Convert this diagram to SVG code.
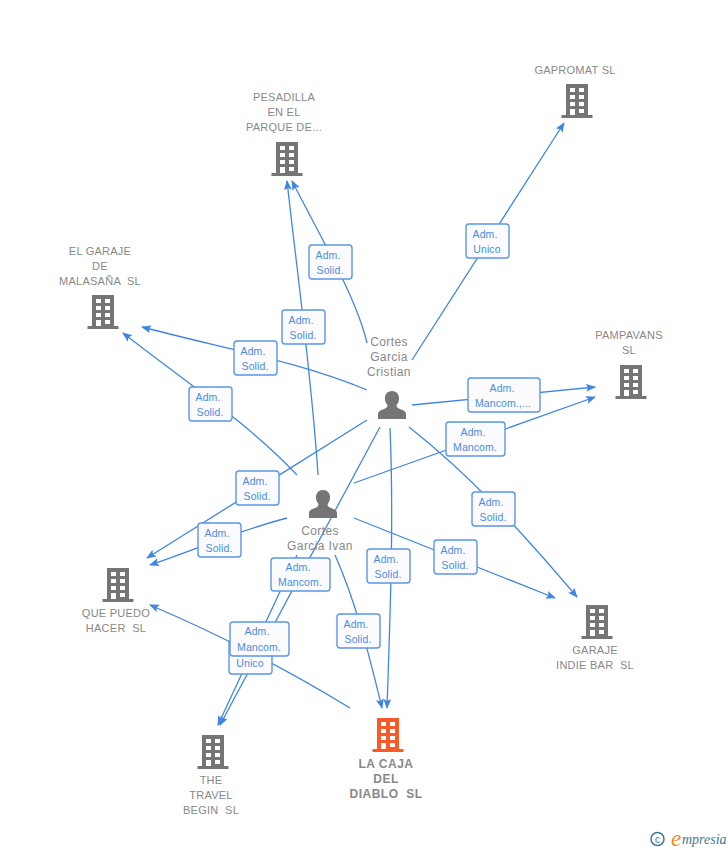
<svg xmlns="http://www.w3.org/2000/svg" width="728" height="850" viewBox="0 0 728 850">
<style>
text{white-space:pre}
.n{font:11px "Liberation Sans",Arial,sans-serif;fill:#888;text-anchor:middle;letter-spacing:.25px}
.nb{font:bold 12px "Liberation Sans",Arial,sans-serif;fill:#888;text-anchor:middle;letter-spacing:.5px}
.p{font:12px "Liberation Sans",Arial,sans-serif;fill:#888;text-anchor:middle;letter-spacing:.4px}
.l{font:10.500px "Liberation Sans",Arial,sans-serif;fill:#4a8ce4;text-anchor:middle;letter-spacing:.1px}
.c{fill:none;stroke:#3f86e4;stroke-width:1.3}
.b{fill:#fbfbfd;stroke:#5a96e8;stroke-width:1.4}
</style>
<defs>
<marker id="a" markerWidth="12" markerHeight="10" refX="9" refY="4" orient="auto" markerUnits="userSpaceOnUse"><path d="M0 0L10 4L0 8L2 4Z" fill="#3f86e4"/></marker>
<symbol id="bld" overflow="visible"><path d="M-11 0H11V31H15.500V34H-15.500V31H-11Z" fill="currentColor"/><path d="M-7 4h5v4h-5zM2 4h5v4h-5zM-7 11h5v4h-5zM2 11h5v4h-5zM-7 18h5v4h-5zM2 18h5v4h-5zM-7 25h5v6h-5zM2 25h5v4h-5z" fill="#fff"/></symbol>
<symbol id="per" overflow="visible"><path d="M0 -14C5 -14 7.500 -10 7 -5.500C6.800 -3 5.500 -1 4.500 0C4.500 2 5.500 3 8 4C11 5 14 6.500 14 9V14H-14V9C-14 6.500 -11 5 -8 4C-5.500 3 -4.500 2 -4.500 0C-5.500 -1 -6.800 -3 -7 -5.500C-7.500 -10 -5 -14 0 -14Z" fill="#757575"/></symbol>
</defs>
<g id="connectors">
<path class="c" d="M412 360L564 123" marker-end="url(#a)"/>
<path class="c" d="M367 343C357 300 325 245 292 181" marker-end="url(#a)"/>
<path class="c" d="M367 390C300 362 230 350 142 327" marker-end="url(#a)"/>
<path class="c" d="M412 405L595 387" marker-end="url(#a)"/>
<path class="c" d="M409 427C470 475 520 530 577 597" marker-end="url(#a)"/>
<path class="c" d="M390 428C394 520 390 620 387 708" marker-end="url(#a)"/>
<path class="c" d="M380 427L220 725" marker-end="url(#a)"/>
<path class="c" d="M367 420L147 558" marker-end="url(#a)"/>
<path class="c" d="M318 475C312 380 298 280 287 181" marker-end="url(#a)"/>
<path class="c" d="M297 475C250 425 190 385 123 333" marker-end="url(#a)"/>
<path class="c" d="M354 483L595 397" marker-end="url(#a)"/>
<path class="c" d="M287 518C240 530 200 548 150 565" marker-end="url(#a)"/>
<path class="c" d="M354 518L555 598" marker-end="url(#a)"/>
<path class="c" d="M335 555C355 600 368 650 382 708" marker-end="url(#a)"/>
<path class="c" d="M297 555L218 725" marker-end="url(#a)"/>
<path class="c" d="M350 708C280 665 220 635 150 605" marker-end="url(#a)"/>
</g>
<g id="edge-labels">
<g><rect class="b" x="466" y="224" width="43" height="34" rx="3"/><text class="l" x="485" y="238">Adm.</text><text class="l" x="487" y="253">Unico</text></g>
<g><rect class="b" x="309" y="245" width="43" height="34" rx="3"/><text class="l" x="328" y="259">Adm.</text><text class="l" x="330" y="274">Solid.</text></g>
<g><rect class="b" x="282" y="310" width="43" height="34" rx="3"/><text class="l" x="301" y="324">Adm.</text><text class="l" x="303" y="339">Solid.</text></g>
<g><rect class="b" x="234" y="341" width="43" height="34" rx="3"/><text class="l" x="253" y="355">Adm.</text><text class="l" x="255" y="370">Solid.</text></g>
<g><rect class="b" x="189" y="387" width="43" height="34" rx="3"/><text class="l" x="208" y="401">Adm.</text><text class="l" x="210" y="416">Solid.</text></g>
<g><rect class="b" x="468" y="378" width="72" height="34" rx="3"/><text class="l" x="502" y="392">Adm.</text><text class="l" x="503" y="407">Mancom.,...</text></g>
<g><rect class="b" x="446" y="422" width="59" height="34" rx="3"/><text class="l" x="473" y="436">Adm.</text><text class="l" x="475" y="451">Mancom.</text></g>
<g><rect class="b" x="236" y="471" width="43" height="34" rx="3"/><text class="l" x="255" y="485">Adm.</text><text class="l" x="257" y="500">Solid.</text></g>
<g><rect class="b" x="472" y="492" width="43" height="34" rx="3"/><text class="l" x="491" y="506">Adm.</text><text class="l" x="493" y="521">Solid.</text></g>
<g><rect class="b" x="198" y="523" width="43" height="34" rx="3"/><text class="l" x="217" y="537">Adm.</text><text class="l" x="219" y="552">Solid.</text></g>
<g><rect class="b" x="434" y="540" width="43" height="34" rx="3"/><text class="l" x="453" y="554">Adm.</text><text class="l" x="455" y="569">Solid.</text></g>
<g><rect class="b" x="367" y="549" width="43" height="34" rx="3"/><text class="l" x="386" y="563">Adm.</text><text class="l" x="388" y="578">Solid.</text></g>
<g><rect class="b" x="271" y="558" width="59" height="33" rx="3"/><text class="l" x="298" y="571">Adm.</text><text class="l" x="300" y="586">Mancom.</text></g>
<g><rect class="b" x="337" y="614" width="43" height="34" rx="3"/><text class="l" x="356" y="628">Adm.</text><text class="l" x="358" y="643">Solid.</text></g>
<g><rect class="b" x="229" y="640" width="43" height="34" rx="3"/><text class="l" x="250" y="667">Unico</text></g>
<g><rect class="b" x="230" y="622" width="59" height="34" rx="3"/><text class="l" x="257" y="635">Adm.</text><text class="l" x="259" y="651">Mancom.</text></g>
</g>
<g id="node-pesadilla" color="#757575"><use href="#bld" x="287" y="142"/><text class="n" x="284" y="101">PESADILLA</text><text class="n" x="284" y="116">EN EL</text><text class="n" x="284" y="131">PARQUE DE...</text></g>
<g id="node-gapromat" color="#757575"><use href="#bld" x="577" y="84"/><text class="n" x="575" y="74">GAPROMAT SL</text></g>
<g id="node-malasana" color="#757575"><use href="#bld" x="103" y="295"/><text class="n" x="100" y="255">EL GARAJE</text><text class="n" x="100" y="270">DE</text><text class="n" x="100" y="285">MALASAÑA  SL</text></g>
<g id="node-pampavans" color="#757575"><use href="#bld" x="631" y="365"/><text class="n" x="629" y="339">PAMPAVANS</text><text class="n" x="629" y="354">SL</text></g>
<g id="node-quepuedo" color="#757575"><use href="#bld" x="118" y="568"/><text class="n" x="116" y="617">QUE PUEDO</text><text class="n" x="116" y="632">HACER  SL</text></g>
<g id="node-indie" color="#757575"><use href="#bld" x="597" y="605"/><text class="n" x="595" y="654">GARAJE</text><text class="n" x="595" y="669">INDIE BAR  SL</text></g>
<g id="node-travel" color="#757575"><use href="#bld" x="213" y="735"/><text class="n" x="211" y="784">THE</text><text class="n" x="211" y="799">TRAVEL</text><text class="n" x="211" y="814">BEGIN  SL</text></g>
<g id="node-lacaja" color="#fa5a28"><use href="#bld" x="388" y="718"/><text class="nb" x="386" y="768">LA CAJA</text><text class="nb" x="386" y="783">DEL</text><text class="nb" x="386" y="798">DIABLO  SL</text></g>
<g id="node-cristian"><use href="#per" x="392" y="405"/><text class="p" x="389" y="346">Cortes</text><text class="p" x="389" y="361">Garcia</text><text class="p" x="389" y="376">Cristian</text></g>
<g id="node-ivan"><use href="#per" x="323" y="504"/><text class="p" x="320" y="535">Cortes</text><text class="p" x="320" y="550">Garcia Ivan</text></g>
<g id="logo"><circle cx="657.500" cy="839" r="6.500" fill="none" stroke="#3f7a94" stroke-width="1.500"/><text x="657.500" y="842.500" font-family="Liberation Sans,sans-serif" font-size="10" fill="#3f7a94" text-anchor="middle">c</text><text x="671" y="846" font-family="Liberation Serif,serif" font-style="italic" font-size="23" fill="#f08a1d">e</text><text x="682" y="844" font-family="Liberation Serif,serif" font-style="italic" font-size="14" fill="#3f7a94">mpresia</text></g>
</svg>
